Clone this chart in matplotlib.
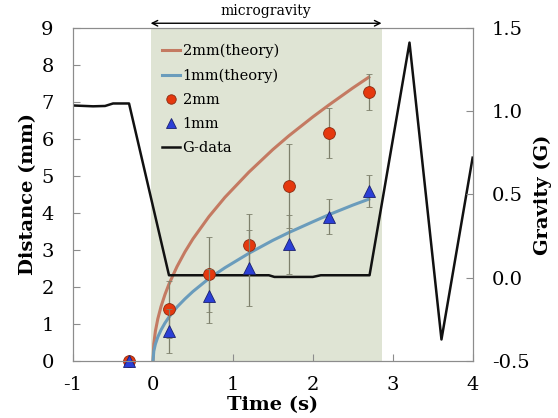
import matplotlib
matplotlib.use('Agg')
import matplotlib.pyplot as plt

plt.rcParams['font.family'] = ['DejaVu Serif']

# measured points (time s, distance mm, error)
t_data = [-0.3, 0.2, 0.7, 1.2, 1.7, 2.2, 2.7]
d_2mm = [0.0, 1.40, 2.34, 3.13, 4.72, 6.16, 7.26]
err_2mm = [0.0, 0.77, 1.02, 0.83, 1.13, 0.68, 0.48]
d_1mm = [0.0, 0.82, 1.76, 2.51, 3.15, 3.90, 4.59]
err_1mm = [0.0, 0.59, 0.72, 1.02, 0.79, 0.48, 0.43]

# theory curves
t_theory = [0, 0.01, 0.03, 0.06, 0.1, 0.15, 0.2, 0.3, 0.4, 0.5, 0.7, 0.9,
            1.2, 1.5, 1.7, 2.0, 2.2, 2.5, 2.7]
theory_2mm = [0, 0.47, 0.81, 1.14, 1.47, 1.80, 2.08, 2.55, 2.95, 3.30, 3.90,
              4.42, 5.10, 5.71, 6.08, 6.59, 6.91, 7.37, 7.66]
theory_1mm = [0, 0.27, 0.46, 0.65, 0.84, 1.03, 1.19, 1.46, 1.68, 1.88, 2.23,
              2.52, 2.91, 3.26, 3.47, 3.76, 3.95, 4.21, 4.37]

# gravity log
t_g = [-1.0, -0.75, -0.6, -0.5, -0.3, 0.2, 1.45, 1.52, 2.0, 2.1, 2.71, 3.21, 3.61, 4.0]
g_data = [1.033, 1.028, 1.03, 1.045, 1.045, 0.015, 0.015, 0.005, 0.005, 0.015, 0.015,
          1.41, -0.37, 0.72]

mg_start, mg_end = -0.03, 2.86

fig = plt.figure(figsize=(5.58, 4.18), dpi=100)
ax = fig.add_axes([0.131, 0.136, 0.716, 0.798])
ax2 = ax.twinx()

ax.set_xlim(-1, 4)
ax.set_ylim(0, 9)
ax2.set_ylim(-0.5, 1.5)

ax.axvspan(mg_start, mg_end, color='#dfe4d4', lw=0, zorder=0)

l_t2, = ax.plot(t_theory, theory_2mm, color='#c47a62', lw=2.2, label='2mm(theory)', zorder=2)
l_t1, = ax.plot(t_theory, theory_1mm, color='#6a9cbc', lw=2.2, label='1mm(theory)', zorder=2)

# G-data drawn in primary axes (so markers stay on top) but in gravity units
l_g, = ax.plot(t_g, g_data, color='#111111', lw=1.8, label='G-data',
               transform=ax2.transData, zorder=3)

ebkw = dict(ecolor='#7e806c', elinewidth=0.9, capsize=2, capthick=0.8, ls='none')
e2 = ax.errorbar(t_data, d_2mm, yerr=err_2mm, marker='o', ms=8.5, mfc='#e5380e',
                 mec='#8a2a10', mew=0.6, zorder=4, label='2mm', **ebkw)
e1 = ax.errorbar(t_data, d_1mm, yerr=err_1mm, marker='^', ms=9, mfc='#2b3fd6',
                 mec='#1a2070', mew=0.6, zorder=5, label='1mm', **ebkw)
for e in (e1, e2):
    e[0].set_clip_on(False)

for a in (ax, ax2):
    for s in a.spines.values():
        s.set_color('#8c8c8c')
ax.tick_params(axis='y', direction='in', length=5, color='#8c8c8c', labelsize=14, pad=14)
ax.tick_params(axis='x', direction='in', length=5, color='#8c8c8c', labelsize=14, pad=11)
ax2.tick_params(direction='in', length=5, color='#8c8c8c', labelsize=14, pad=14)
ax.set_xticks([-1, 0, 1, 2, 3, 4])
ax.set_yticks(range(10))
ax2.set_yticks([-0.5, 0.0, 0.5, 1.0, 1.5])
ax2.set_yticklabels(['-0.5', '0.0', '0.5', '1.0', '1.5'])
ax.set_xticklabels(['-1', '0', '1', '2', '3', '4'])

ax.set_xlabel('Time (s)', fontsize=14, fontweight='bold', labelpad=1)
ax.set_ylabel('Distance (mm)', fontsize=14, fontweight='bold', labelpad=3)
ax2.set_ylabel('Gravity (G)', fontsize=14, fontweight='bold', labelpad=3)

# microgravity arrow
ax.annotate('', xy=(mg_start, 1.013), xytext=(mg_end, 1.013),
            xycoords=('data', 'axes fraction'), textcoords=('data', 'axes fraction'),
            arrowprops=dict(arrowstyle='<->', color='black', lw=1.0,
                            shrinkA=0, shrinkB=0), annotation_clip=False)
ax.text((mg_start + mg_end) / 2, 1.03, 'microgravity', transform=ax.get_xaxis_transform(),
        ha='center', va='bottom', fontsize=10)

leg = ax2.legend([l_t2, l_t1, e2[0], e1[0], l_g],
                 ['2mm(theory)', '1mm(theory)', '2mm', '1mm', 'G-data'],
                 loc='upper left', bbox_to_anchor=(0.19, 0.99), frameon=False,
                 fontsize=10.5, handlelength=1.2, handletextpad=0.2,
                 labelspacing=0.69, markerscale=0.8)

fig.savefig('out.png', dpi=100)
